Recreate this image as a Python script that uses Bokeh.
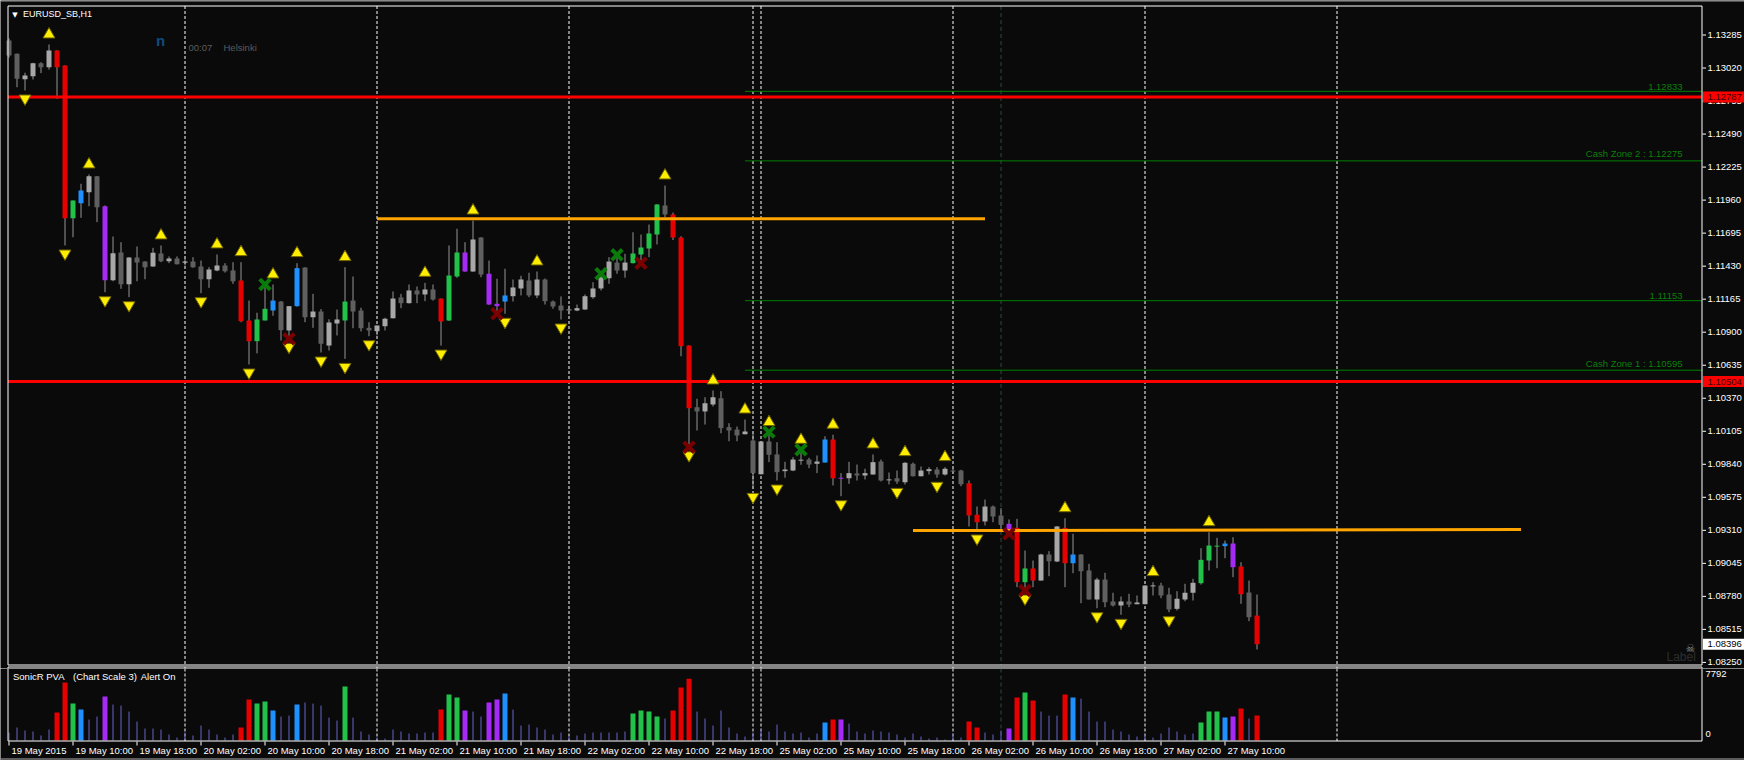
from bokeh.plotting import figure
from bokeh.layouts import column
from bokeh.models import Range1d, Label
from bokeh.core.properties import value
from bokeh.embed import file_html
from bokeh.resources import INLINE

# ---------------- data (EURUSD_SB, H1) ----------------
bars = list(range(1, 158))

opens = [1.13241, 1.13134, 1.12930, 1.12954, 1.13059, 1.13027, 1.13161, 1.13040, 1.11815, 1.11935,
         1.12024, 1.12152, 1.11911, 1.11317, 1.11540, 1.11285, 1.11500, 1.11467, 1.11427, 1.11532,
         1.11470, 1.11491, 1.11457, 1.11467, 1.11427, 1.11325, 1.11395, 1.11435, 1.11395, 1.11315,
         1.10994, 1.10828, 1.10994, 1.11074, 1.11146, 1.10914, 1.11109, 1.11419, 1.11020, 1.11066,
         1.10793, 1.10970, 1.10994, 1.11154, 1.11074, 1.10935, 1.10908, 1.10948, 1.11012, 1.11179,
         1.11133, 1.11235, 1.11203, 1.11243, 1.11170, 1.10994, 1.11347, 1.11540, 1.11387, 1.11660,
         1.11369, 1.11128, 1.11146, 1.11189, 1.11251, 1.11315, 1.11195, 1.11323, 1.11146, 1.11114,
         1.11082, 1.11074, 1.11082, 1.11181, 1.11251, 1.11333, 1.11459, 1.11395, 1.11454, 1.11524,
         1.11572, 1.11684, 1.11917, 1.11845, 1.11660, 1.10793, 1.10298, 1.10264, 1.10320, 1.10370,
         1.10138, 1.10119, 1.10081, 1.10031, 1.09760, 1.10023, 1.09919, 1.09785, 1.09790, 1.09876,
         1.09878, 1.09844, 1.09854, 1.10039, 1.09730, 1.09728, 1.09766, 1.09750, 1.09758, 1.09862,
         1.09718, 1.09728, 1.09696, 1.09844, 1.09744, 1.09785, 1.09798, 1.09758, 1.09790, 1.09790,
         1.09688, 1.09435, 1.09381, 1.09501, 1.09429, 1.09362, 1.09330, 1.08894, 1.09004, 1.08907,
         1.09116, 1.09060, 1.09330, 1.09046, 1.09116, 1.08988, 1.08755, 1.08915, 1.08739, 1.08707,
         1.08739, 1.08717, 1.08717, 1.08867, 1.08867, 1.08795, 1.08680, 1.08755, 1.08809, 1.08886,
         1.09068, 1.09186, 1.09183, 1.09204, 1.09020, 1.08811, 1.08626]

highs = [1.13257, 1.13136, 1.12982, 1.13062, 1.13067, 1.13209, 1.13163, 1.13042, 1.11957, 1.12091,
         1.12166, 1.12154, 1.11917, 1.11668, 1.11622, 1.11502, 1.11588, 1.11469, 1.11577, 1.11596,
         1.11508, 1.11508, 1.11508, 1.11502, 1.11475, 1.11422, 1.11524, 1.11454, 1.11462, 1.11462,
         1.11154, 1.11056, 1.11283, 1.11283, 1.11150, 1.11109, 1.11454, 1.11421, 1.11208, 1.11085,
         1.11004, 1.11082, 1.11422, 1.11347, 1.11096, 1.10980, 1.10954, 1.11016, 1.11227, 1.11208,
         1.11283, 1.11267, 1.11296, 1.11283, 1.11172, 1.11596, 1.11730, 1.11622, 1.11796, 1.11662,
         1.11475, 1.11329, 1.11409, 1.11323, 1.11353, 1.11377, 1.11387, 1.11331, 1.11154, 1.11187,
         1.11114, 1.11122, 1.11203, 1.11301, 1.11369, 1.11502, 1.11521, 1.11529, 1.11702, 1.11684,
         1.11764, 1.11928, 1.12077, 1.11860, 1.11670, 1.10795, 1.10366, 1.10378, 1.10432, 1.10427,
         1.10170, 1.10143, 1.10199, 1.10098, 1.10025, 1.10098, 1.10017, 1.09860, 1.09897, 1.09956,
         1.09892, 1.09911, 1.10065, 1.10077, 1.09769, 1.09860, 1.09838, 1.09804, 1.09919, 1.09878,
         1.09774, 1.09790, 1.09857, 1.09854, 1.09822, 1.09817, 1.09817, 1.09817, 1.09812, 1.09796,
         1.09710, 1.09501, 1.09557, 1.09509, 1.09488, 1.09397, 1.09402, 1.09148, 1.09068, 1.09122,
         1.09143, 1.09344, 1.09407, 1.09282, 1.09118, 1.09041, 1.08929, 1.08969, 1.08809, 1.08779,
         1.08801, 1.08787, 1.08870, 1.08894, 1.08889, 1.08849, 1.08822, 1.08881, 1.08921, 1.09167,
         1.09295, 1.09250, 1.09228, 1.09255, 1.09054, 1.08907, 1.08795]

lows = [1.13104, 1.12866, 1.12840, 1.12928, 1.12979, 1.13008, 1.12773, 1.11596, 1.11662, 1.11818,
        1.11911, 1.11783, 1.11221, 1.11309, 1.11248, 1.11181, 1.11309, 1.11325, 1.11425, 1.11462,
        1.11454, 1.11444, 1.11435, 1.11417, 1.11213, 1.11256, 1.11389, 1.11379, 1.11288, 1.10980,
        1.10641, 1.10730, 1.10994, 1.11032, 1.10833, 1.10847, 1.11105, 1.10980, 1.10935, 1.10737,
        1.10753, 1.10874, 1.10686, 1.10932, 1.10906, 1.10868, 1.10874, 1.10914, 1.11010, 1.11093,
        1.11130, 1.11133, 1.11149, 1.11154, 1.10793, 1.10990, 1.11337, 1.11385, 1.11385, 1.11341,
        1.11120, 1.11048, 1.11048, 1.11146, 1.11195, 1.11181, 1.11173, 1.11122, 1.11088, 1.11002,
        1.11042, 1.11069, 1.11080, 1.11168, 1.11235, 1.11288, 1.11369, 1.11337, 1.11452, 1.11454,
        1.11502, 1.11604, 1.11823, 1.11640, 1.10707, 1.09977, 1.10111, 1.10159, 1.10304, 1.10089,
        1.10025, 1.10025, 1.10081, 1.09643, 1.09758, 1.09857, 1.09710, 1.09732, 1.09785, 1.09836,
        1.09809, 1.09769, 1.09854, 1.09670, 1.09584, 1.09683, 1.09710, 1.09718, 1.09758, 1.09702,
        1.09678, 1.09683, 1.09678, 1.09742, 1.09744, 1.09758, 1.09732, 1.09750, 1.09769, 1.09664,
        1.09341, 1.09309, 1.09349, 1.09375, 1.09295, 1.09282, 1.08854, 1.08827, 1.08854, 1.08907,
        1.08942, 1.09055, 1.08854, 1.08966, 1.08725, 1.08755, 1.08685, 1.08693, 1.08699, 1.08632,
        1.08693, 1.08717, 1.08717, 1.08787, 1.08765, 1.08653, 1.08667, 1.08741, 1.08747, 1.08875,
        1.08988, 1.09006, 1.09086, 1.08934, 1.08720, 1.08581, 1.08354]

closes = [1.13120, 1.12934, 1.12960, 1.13059, 1.13027, 1.13161, 1.13027, 1.11815, 1.11957, 1.12037,
          1.12152, 1.11903, 1.11317, 1.11534, 1.11285, 1.11500, 1.11459, 1.11422, 1.11537, 1.11470,
          1.11491, 1.11446, 1.11467, 1.11422, 1.11325, 1.11403, 1.11435, 1.11390, 1.11309, 1.10988,
          1.10828, 1.11002, 1.11088, 1.11154, 1.10916, 1.11109, 1.11414, 1.11020, 1.11066, 1.10807,
          1.10978, 1.11002, 1.11146, 1.11066, 1.10932, 1.10914, 1.10954, 1.11008, 1.11170, 1.11133,
          1.11235, 1.11203, 1.11243, 1.11162, 1.10986, 1.11355, 1.11540, 1.11387, 1.11644, 1.11363,
          1.11122, 1.11109, 1.11195, 1.11259, 1.11323, 1.11195, 1.11323, 1.11149, 1.11106, 1.11074,
          1.11083, 1.11093, 1.11189, 1.11251, 1.11341, 1.11467, 1.11395, 1.11459, 1.11532, 1.11580,
          1.11692, 1.11925, 1.11845, 1.11660, 1.10788, 1.10290, 1.10264, 1.10330, 1.10378, 1.10130,
          1.10111, 1.10071, 1.10103, 1.09769, 1.10023, 1.09916, 1.09777, 1.09798, 1.09878, 1.09877,
          1.09838, 1.09862, 1.10039, 1.09728, 1.09732, 1.09769, 1.09750, 1.09769, 1.09857, 1.09710,
          1.09719, 1.09702, 1.09852, 1.09744, 1.09790, 1.09801, 1.09758, 1.09804, 1.09789, 1.09680,
          1.09429, 1.09375, 1.09501, 1.09421, 1.09354, 1.09314, 1.08894, 1.09004, 1.08907, 1.09116,
          1.09062, 1.09341, 1.09046, 1.09116, 1.08982, 1.08755, 1.08915, 1.08733, 1.08707, 1.08739,
          1.08715, 1.08731, 1.08867, 1.08868, 1.08787, 1.08675, 1.08761, 1.08809, 1.08889, 1.09073,
          1.09188, 1.09187, 1.09204, 1.09014, 1.08797, 1.08613, 1.08396]

# PVA class per bar: n = normal, r = bear climax, g = bull climax, b = bull rising, v = bear rising
pva = list("nnnnnn" "rrgbnnv" "nnnnnnnnnnnnnnnn" "rrggbnnb" "nnnnn" "g" "nnnnnnnnnnn"
           "rggvnnvvb" "nnnnnnnnnnnnnnn" "ggggnrrr" "nnnnnnnnnnnnnnnn" "brv"
           "nnnnnnnnnnnnnnn" "rrnnnvrgrnnnrb" "nnnnnnnnnnnnnnn" "gggbvrnr")

volumes = [864, 1404, 1080, 972, 540, 1188, 3024, 6264, 3996, 3348,
           2268, 2592, 4752, 3888, 3780, 3132, 2052, 1296, 1296, 1188,
           648, 324, 864, 540, 1620, 1188, 648, 324, 648, 1404,
           4428, 3996, 4212, 3240, 2592, 2700, 3888, 4104, 3996, 3780,
           2484, 2160, 5832, 2484, 972, 648, 324, 216, 1188, 972,
           756, 756, 864, 864, 3348, 4968, 4644, 3240, 3132, 2592,
           4104, 4428, 5076, 3348, 1620, 1728, 1404, 1188, 648, 864,
           432, 540, 756, 864, 864, 864, 864, 972, 2916, 3240,
           3132, 2592, 2376, 3240, 5724, 6696, 3132, 2376, 1620, 3240,
           1404, 756, 432, 864, 1188, 972, 1728, 972, 756, 864,
           324, 756, 1944, 2268, 2268, 1836, 972, 756, 1080, 972,
           864, 648, 324, 756, 432, 216, 324, 108, 756, 324,
           2052, 1404, 864, 648, 1080, 1296, 4644, 5184, 4320, 3132,
           2700, 2700, 4968, 4644, 4536, 3132, 2052, 2052, 1188, 972,
           648, 432, 648, 324, 756, 1404, 972, 648, 756, 1944,
           3132, 3132, 2484, 2592, 3456, 2376, 2700]

up_fractal_bars = [6, 11, 20, 27, 30, 34, 37, 43, 53, 59, 67, 83, 89, 93, 96, 100, 104, 109, 113, 118, 133, 144, 151]
down_fractal_bars = [3, 8, 13, 16, 25, 31, 36, 40, 43, 46, 55, 63, 70, 86, 94, 97, 105, 112, 117, 122, 128, 137, 140, 146]
buy_cross_bars = [33, 75, 77, 96, 100]
sell_cross_bars = [36, 62, 80, 86, 126, 128]

day_separator_bars = [23, 47, 71, 94, 95, 119, 143, 167]
marker_line_bars = [125]

red_levels = [1.12787, 1.10504]
zone_levels = [1.12833, 1.12275, 1.11153, 1.10595]
zone_labels = ["1.12833", "Cash Zone 2 : 1.12275", "1.11153", "Cash Zone 1 : 1.10595"]
zone_start_bar = 93
trend_x0 = [47, 114]
trend_y0 = [1.11810, 1.09308]
trend_x1 = [123, 190]
trend_y1 = [1.11810, 1.09316]
last_price = 1.08396

price_ticks = [1.13285, 1.13020, 1.12755, 1.12490, 1.12225, 1.11960, 1.11695, 1.11430, 1.11165, 1.10900,
               1.10635, 1.10370, 1.10105, 1.09840, 1.09575, 1.09310, 1.09045, 1.08780, 1.08515, 1.08250]
date_ticks = [1, 9, 17, 25, 33, 41, 49, 57, 65, 73, 81, 89, 97, 105, 113, 121, 129, 137, 145, 153]
date_labels = ["19 May 2015", "19 May 10:00", "19 May 18:00", "20 May 02:00", "20 May 10:00",
               "20 May 18:00", "21 May 02:00", "21 May 10:00", "21 May 18:00", "22 May 02:00",
               "22 May 10:00", "22 May 18:00", "25 May 02:00", "25 May 10:00", "25 May 18:00",
               "26 May 02:00", "26 May 10:00", "26 May 18:00", "27 May 02:00", "27 May 10:00"]
vol_axis_labels = ["7792", "0"]
indicator_title = ["SonicR PVA", "(Chart Scale 3)", "Alert On"]

# ---------------- style / geometry ----------------
BG = "#0a0a0a"
BULL, BEAR = "#a8a8a8", "#5f5f5f"
PVA_COL = {"r": "#e60000", "g": "#22c24a", "b": "#1e90ff", "v": "#a52af5"}
WICK = "#959595"
VOL_THIN = "#6464c8"
FONT = "Liberation Sans"
FS = "9.5px"

W = 1744
H_MAIN, H_VOL = 668, 92           # main panel canvas 0..668, volume canvas 668..760
xr = Range1d(-0.0625, -0.0625 + W / 8.0)      # 8 px per bar
PY0, PXP = 1.135619, 0.00008025                 # price at top edge, price per pixel
yr = Range1d(PY0 - PXP * H_MAIN, PY0)
VPX = 7792 / 72.0                               # volume per pixel
V_ZERO = 740                                    # page y of zero volume
vr = Range1d((V_ZERO - (H_MAIN + H_VOL)) * VPX, (V_ZERO - H_MAIN) * VPX)

LEFT, RIGHT, TOP, BOTTOM = 7.5, 1701.5, 5.5, 664.5   # main plot-area borders (page px)
V_TOP, V_BOT = 666.5, 740.5                           # volume plot-area borders (page px)


def cx(px):
    return xr.start + px / 8.0


def my(y):
    return PY0 - PXP * y


def vy(y):
    return (V_ZERO - y) * VPX


def new_fig(h, yrange):
    f = figure(width=W, height=h, x_range=xr, y_range=yrange, output_backend="svg",
               toolbar_location=None, x_axis_location=None, y_axis_location=None,
               min_border=0, min_border_left=0, min_border_right=0, min_border_top=0, min_border_bottom=0,
               outline_line_color=None, background_fill_color=BG, border_fill_color=BG)
    f.grid.visible = False
    return f


# ================= main price panel =================
p = new_fig(H_MAIN, yr)

p.segment(x0=[cx(0)], y0=[my(0.5)], x1=[cx(W)], y1=[my(0.5)], line_color="#9a9a9a", line_width=1)

n_sep = len(day_separator_bars)
p.segment(x0=day_separator_bars, y0=[my(TOP)] * n_sep, x1=day_separator_bars, y1=[my(BOTTOM)] * n_sep,
          line_color="white", line_width=1, line_dash="3 2")
p.segment(x0=day_separator_bars, y0=[my(V_TOP)] * n_sep, x1=day_separator_bars, y1=[my(H_MAIN)] * n_sep,
          line_color="white", line_width=1)
p.segment(x0=marker_line_bars, y0=[my(TOP)], x1=marker_line_bars, y1=[my(BOTTOM)],
          line_color="#2f4a44", line_width=1, line_dash="4 3")

nz = len(zone_levels)
p.segment(x0=[zone_start_bar] * nz, y0=zone_levels, x1=[cx(RIGHT)] * nz, y1=zone_levels,
          line_color="#008000", line_width=1)

# candles
body_top = [max(o, c) for o, c in zip(opens, closes)]
body_bot = [min(min(o, c), max(o, c) - PXP) for o, c in zip(opens, closes)]
fills = [PVA_COL[k] if k != "n" else (BULL if c >= o else BEAR) for k, o, c in zip(pva, opens, closes)]
p.segment(x0=bars, y0=lows, x1=bars, y1=highs, line_color=WICK, line_width=1)
p.vbar(x=bars, width=0.625, top=body_top, bottom=body_bot, fill_color=fills, line_color=None)

# lines
nr = len(red_levels)
p.segment(x0=[cx(LEFT)] * nr, y0=red_levels, x1=[cx(RIGHT)] * nr, y1=red_levels,
          line_color="#ff0000", line_width=3)
p.segment(x0=trend_x0, y0=trend_y0, x1=trend_x1, y1=trend_y1, line_color="#ffa500", line_width=3)

# markers
up_y = [highs[b - 1] + 10 * PXP for b in up_fractal_bars]
dn_y = [lows[b - 1] - 8 * PXP for b in down_fractal_bars]
p.scatter(up_fractal_bars, up_y, marker="triangle", size=12, fill_color="#ffee00",
          line_color="#6e6200", line_width=1)
p.scatter(down_fractal_bars, dn_y, marker="inverted_triangle", size=12, fill_color="#ffee00",
          line_color="#6e6200", line_width=1)
p.scatter(buy_cross_bars, [highs[b - 1] for b in buy_cross_bars], marker="x", size=15,
          line_color="#0a7a0a", line_width=4)
p.scatter(sell_cross_bars, [lows[b - 1] for b in sell_cross_bars], marker="x", size=15,
          line_color="#7a0000", line_width=4)

# plot-area borders (main, plus top edge of the volume panel)
p.segment(x0=[cx(LEFT), cx(LEFT), cx(LEFT), cx(RIGHT), cx(LEFT), cx(LEFT), cx(RIGHT)],
          y0=[my(TOP), my(BOTTOM), my(TOP), my(TOP), my(V_TOP), my(V_TOP), my(V_TOP)],
          x1=[cx(RIGHT), cx(RIGHT), cx(LEFT), cx(RIGHT), cx(RIGHT), cx(LEFT), cx(RIGHT)],
          y1=[my(TOP), my(BOTTOM), my(BOTTOM), my(BOTTOM), my(V_TOP), my(H_MAIN), my(H_MAIN)],
          line_color="white", line_width=1)

# price scale
npt = len(price_ticks)
p.segment(x0=[cx(1702)] * npt, y0=price_ticks, x1=[cx(1705.5)] * npt, y1=price_ticks,
          line_color="white", line_width=1)
p.text(x=[cx(1707)] * npt, y=price_ticks, text=["%.5f" % t for t in price_ticks],
       text_color="white", text_font=value(FONT), text_font_size=value(FS),
       text_align="left", text_baseline="middle")

# price boxes
p.quad(left=[cx(1702.5)] * nr, right=[cx(W)] * nr, top=[lv + 5.5 * PXP for lv in red_levels],
       bottom=[lv - 5.5 * PXP for lv in red_levels], fill_color="#ff0000", line_color=None)
p.text(x=[cx(1707)] * nr, y=red_levels, text=["%.5f" % lv for lv in red_levels],
       text_color="#3c0000", text_font=value(FONT), text_font_size=value(FS),
       text_align="left", text_baseline="middle")
p.quad(left=[cx(1702.5)], right=[cx(W)], top=[last_price + 5.5 * PXP], bottom=[last_price - 5.5 * PXP],
       fill_color="white", line_color=None)
p.text(x=[cx(1707)], y=[last_price], text=["%.5f" % last_price], text_color="black",
       text_font=value(FONT), text_font_size=value(FS), text_align="left", text_baseline="middle")

# zone labels
for lv, t in zip(zone_levels, zone_labels):
    p.add_layout(Label(x=cx(1682), y=lv + 1.5 * PXP, text=t, text_align="right", text_baseline="bottom",
                       text_color="#0a800a", text_font=FONT, text_font_size=FS))

# header texts
p.add_layout(Label(x=cx(14.5), y=my(14), text="\u25bc", text_align="center", text_baseline="middle",
                   text_color="white", text_font="DejaVu Sans", text_font_size="7px"))
p.add_layout(Label(x=cx(22.5), y=my(13.8), text="EURUSD_SB,H1", text_baseline="middle",
                   text_color="white", text_font=FONT, text_font_size="9px"))
p.add_layout(Label(x=cx(155.5), y=my(39.6), text="n", text_baseline="middle", text_color="#0e4c82",
                   text_font=FONT, text_font_size="15px", text_font_style="bold"))
p.add_layout(Label(x=cx(188), y=my(47), text="00:07", text_baseline="middle", text_color="#5c5c5c",
                   text_font=FONT, text_font_size=FS))
p.add_layout(Label(x=cx(223), y=my(47), text="Helsinki", text_baseline="middle", text_color="#5c5c5c",
                   text_font=FONT, text_font_size=FS))
p.add_layout(Label(x=cx(1666), y=my(656), text="Label", text_baseline="middle", text_color="#2e2e2e",
                   text_font=FONT, text_font_size="12px"))
p.add_layout(Label(x=cx(1690), y=my(648), text="\u2620", text_align="center", text_baseline="middle",
                   text_color="#8a8a8a", text_font="DejaVu Sans", text_font_size="11px"))

# ================= volume panel =================
pv = new_fig(H_VOL, vr)
V_START = H_MAIN

pv.segment(x0=day_separator_bars, y0=[vy(V_START)] * n_sep, x1=day_separator_bars, y1=[vy(V_BOT)] * n_sep,
           line_color="white", line_width=1, line_dash="3 2")
pv.segment(x0=marker_line_bars, y0=[vy(V_START)], x1=marker_line_bars, y1=[vy(V_BOT)],
           line_color="#2f4a44", line_width=1, line_dash="4 3")

thin_x = [b for b, k in zip(bars, pva) if k == "n"]
thin_v = [v for v, k in zip(volumes, pva) if k == "n"]
thick_x = [b for b, k in zip(bars, pva) if k != "n"]
thick_v = [v for v, k in zip(volumes, pva) if k != "n"]
thick_c = [PVA_COL[k] for k in pva if k != "n"]
pv.segment(x0=thin_x, y0=[0] * len(thin_x), x1=thin_x, y1=thin_v, line_color=VOL_THIN, line_width=1)
pv.vbar(x=thick_x, width=0.625, top=thick_v, bottom=0, fill_color=thick_c, line_color=None)

pv.segment(x0=[cx(LEFT), cx(LEFT), cx(RIGHT)], y0=[vy(V_BOT), vy(V_START), vy(V_START)],
           x1=[cx(RIGHT), cx(LEFT), cx(RIGHT)], y1=[vy(V_BOT), vy(V_BOT), vy(V_BOT)],
           line_color="white", line_width=1)

nd = len(date_ticks)
pv.segment(x0=date_ticks, y0=[vy(741)] * nd, x1=date_ticks, y1=[vy(745)] * nd, line_color="white", line_width=1)
pv.text(x=[t + 2.5 / 8 for t in date_ticks], y=[vy(750)] * nd, text=date_labels, text_color="white",
        text_font=value(FONT), text_font_size=value(FS), text_align="left", text_baseline="middle")

pv.text(x=[cx(1705), cx(1705)], y=[vy(673), vy(733)], text=vol_axis_labels, text_color="white",
        text_font=value(FONT), text_font_size=value(FS), text_align="left", text_baseline="middle")

pv.segment(x0=[cx(0)], y0=[vy(758.5)], x1=[cx(W)], y1=[vy(758.5)], line_color="#b0b0b0", line_width=1)

for t, px in zip(indicator_title, [12.5, 72.5, 140.2]):
    pv.add_layout(Label(x=cx(px), y=vy(676), text=t, text_baseline="middle", text_color="white",
                        text_font=FONT, text_font_size=FS))

layout = column(p, pv)
open("out.html", "w").write(file_html(layout, INLINE))
